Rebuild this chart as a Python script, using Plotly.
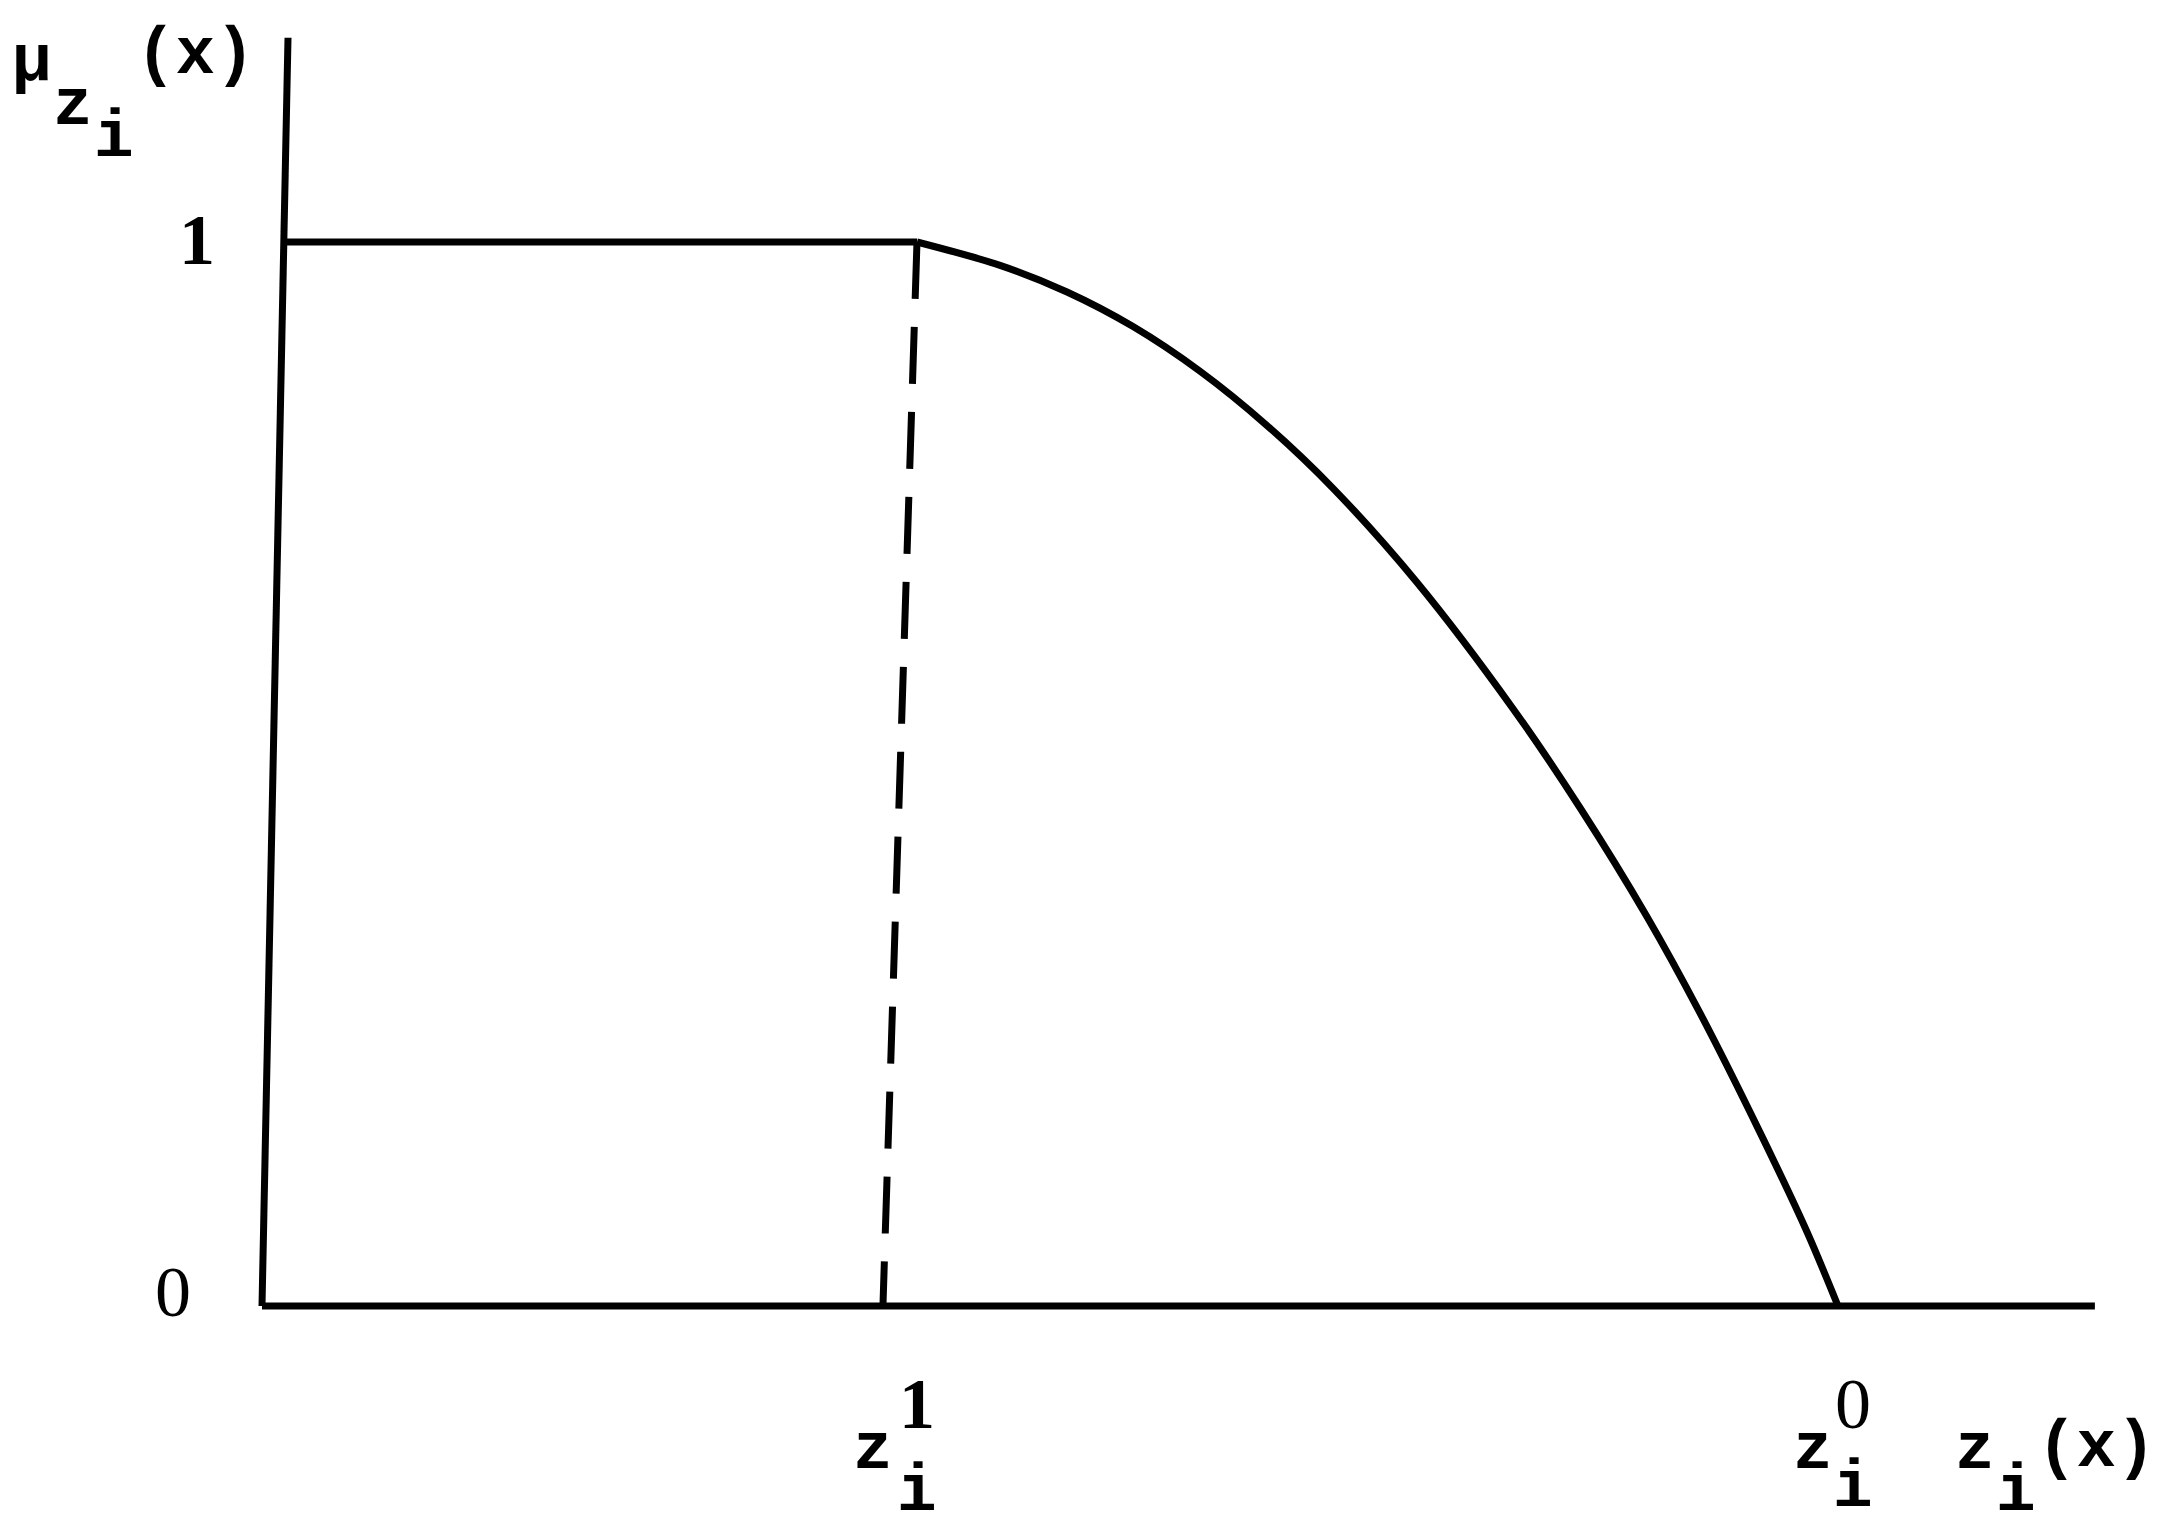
import plotly.graph_objects as go

# ---- data (x in units of z_i^0, y = membership) ----
z1_top = 0.4156          # z_i^1 where curve leaves the plateau
z1_foot = 0.394          # foot of the dashed drop line on the axis
z0 = 1.0                 # z_i^0
x_axis_end = 1.163
y_axis_top = 1.192
y_axis_lean = 0.0165     # scanned y-axis leans slightly right at top

plateau_x = [0.0133, z1_top]
plateau_mu = [1.0, 1.0]

curve_z = [0.4156, 0.4683, 0.5108, 0.5527, 0.5952, 0.6377, 0.6796, 0.7329,
           0.7938, 0.8363, 0.8788, 0.9124, 0.9505, 0.9803, 1.0]
curve_mu = [1.0, 0.978, 0.953, 0.9205, 0.8785, 0.8275, 0.7685, 0.680,
            0.5614, 0.4683, 0.3659, 0.2755, 0.1632, 0.0698, 0.0]

# ---- figure ----
PAGE_OFF = 8                       # default body margin of the html page
W, H = 2158 - PAGE_OFF, 1532 - PAGE_OFF
INK = "#000000"
FONT = "Liberation Mono"
DIGIT_FONT = "Liberation Serif"
FS = 66
LW = 7

# pixel position (in the page) of the data origin and unit lengths
ORIG_X, ORIG_Y = 262 - PAGE_OFF, 1306 - PAGE_OFF
UX, UY = 1576, 1064

fig = go.Figure()

# axes
fig.add_trace(go.Scatter(x=[0, x_axis_end], y=[0, 0], mode="lines",
                         line=dict(color=INK, width=LW), hoverinfo="skip"))
fig.add_trace(go.Scatter(x=[0, y_axis_lean], y=[0, y_axis_top], mode="lines",
                         line=dict(color=INK, width=LW), hoverinfo="skip"))
# plateau
fig.add_trace(go.Scatter(x=plateau_x, y=plateau_mu, mode="lines",
                         line=dict(color=INK, width=LW), hoverinfo="skip"))
# decreasing part
fig.add_trace(go.Scatter(x=curve_z, y=curve_mu, mode="lines",
                         line=dict(color=INK, width=LW, shape="spline", smoothing=0.9,
                                   simplify=False),
                         hoverinfo="skip"))
# dashed drop line at z_i^1
fig.add_trace(go.Scatter(x=[z1_top, z1_foot], y=[1.0, 0.0], mode="lines",
                         line=dict(color=INK, width=LW, dash="57px,28px"), hoverinfo="skip"))


def P(px, py):
    """page pixel -> paper fraction"""
    return (px - PAGE_OFF) / W, 1 - (py - PAGE_OFF) / H


def label(text, px, py, size=FS, family=FONT, weight="bold"):
    x, y = P(px, py)
    fig.add_annotation(x=x, y=y, xref="paper", yref="paper", text=text,
                       showarrow=False, xanchor="center", yanchor="middle",
                       font=dict(family=family, size=size, color=INK, weight=weight))


def digit(text, px, py, weight="normal"):
    label(text, px, py, size=72, family=DIGIT_FONT, weight=weight)


# y-axis title  mu_{z_i}(x)
label("\u03bc", 32, 62)
label("z", 73, 106)
label("i", 114, 138)
label("(x)", 195, 56)
# y ticks
digit("1", 197, 240, weight="bold")
digit("0", 173, 1292)
# z_i^1
label("z", 873, 1450)
digit("1", 917, 1404, weight="bold")
label("i", 917, 1492)
# z_i^0
label("z", 1813, 1450)
digit("0", 1853, 1404)
label("i", 1853, 1488)
# z_i(x)
label("z", 1975, 1450)
label("i", 2016, 1492)
label("(x)", 2096, 1448)

fig.update_layout(
    width=W, height=H,
    margin=dict(l=0, r=0, t=0, b=0),
    paper_bgcolor="white", plot_bgcolor="white",
    showlegend=False,
    xaxis=dict(range=[-ORIG_X / UX, (W - ORIG_X) / UX], visible=False, fixedrange=True),
    yaxis=dict(range=[-(H - ORIG_Y) / UY, ORIG_Y / UY], visible=False, fixedrange=True),
)

fig.write_html("out.html")
